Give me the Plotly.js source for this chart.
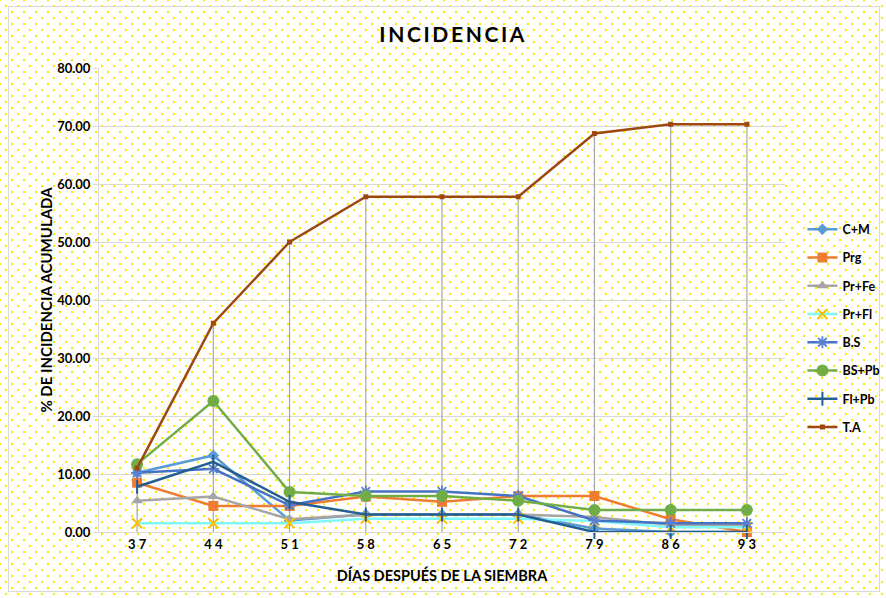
<!DOCTYPE html>
<html>
<head>
<meta charset="utf-8">
<script src="https://cdn.plot.ly/plotly-3.0.1.min.js"></script>
<style>
  html, body { margin: 0; padding: 0; background: #ffffff; }
  #wrap {
    position: relative; width: 886px; height: 598px; overflow: hidden;
    background-color: #ffffff;
    background-image:
      radial-gradient(circle, #ffe600 0.9px, rgba(255,255,255,0) 1.3px),
      radial-gradient(circle, #ffe600 0.9px, rgba(255,255,255,0) 1.3px);
    background-size: 12px 12px, 12px 12px;
    background-position: 0 0, 6px 6px;
  }
  #frame {
    position: absolute; left: 8px; top: 6px; width: 870px; height: 584px;
    border: 1px solid #d9d9d9; pointer-events: none;
  }
  #chart { position: absolute; left: 0; top: 0; width: 886px; height: 598px; }
</style>
</head>
<body>
<div id="wrap">
  <div id="frame"></div>
  <div id="chart"></div>
</div>
<script>
// ---- data ----
const days = [37, 44, 51, 58, 65, 72, 79, 86, 93];
const dayLabels = ["3 7", "4 4", "5 1", "5 8", "6 5", "7 2", "7 9", "8 6", "9 3"];
const yTicks = [0, 10, 20, 30, 40, 50, 60, 70, 80];
const yTickLabels = ["0.00", "10.00", "20.00", "30.00", "40.00", "50.00", "60.00", "70.00", "80.00"];

const cM   = [10.2, 13.2, 2.0, 3.0, 3.0, 3.0, 0.6, 0.0, 0.0];
const prg  = [8.5, 4.5, 4.5, 6.1, 5.2, 6.2, 6.2, 2.2, 0.0];
const prFe = [5.4, 6.1, 2.2, 3.0, 3.0, 3.0, 2.6, 1.2, 1.2];
const prFl = [1.5, 1.5, 1.5, 2.3, 2.3, 2.3, 1.9, 0.8, 0.8];
const bS   = [10.2, 10.9, 4.6, 7.0, 7.0, 6.2, 2.0, 1.5, 1.5];
const bsPb = [11.7, 22.6, 6.9, 6.2, 6.2, 5.4, 3.8, 3.8, 3.8];
const flPb = [7.8, 12.1, 5.2, 3.0, 3.0, 3.0, 0.0, 0.0, 0.0];
const tA   = [11.0, 36.0, 50.0, 57.8, 57.8, 57.8, 68.7, 70.3, 70.3];

// drop lines from highest series (T.A) down to the axis
const dropX = [], dropY = [];
days.forEach((d, i) => { dropX.push(d, d, null); dropY.push(0, tA[i], null); });

const FONT = "Lato, 'Open Sans', 'DejaVu Sans', sans-serif";

function series(name, y, lineColor, marker, group) {
  return {
    type: 'scatter', mode: 'lines+markers', name: name, x: days, y: y,
    line: { color: lineColor, width: 2.5 },
    marker: marker, legendgroup: group, hoverinfo: 'skip', cliponaxis: false
  };
}

const traces = [
  { type: 'scatter', mode: 'lines', x: dropX, y: dropY, showlegend: false,
    line: { color: '#a6a6a6', width: 1.2 }, hoverinfo: 'skip' },
  series('C+M', cM, '#5b9bd5', { symbol: 'diamond', size: 9, color: '#5b9bd5' }, 'a'),
  series('Prg', prg, '#ed7d31', { symbol: 'square', size: 10, color: '#ed7d31' }, 'b'),
  series('Pr+Fe', prFe, '#a5a5a5', { symbol: 'triangle-up', size: 10, color: '#a5a5a5' }, 'c'),
  series('Pr+Fl', prFl, '#7ff7ff', { symbol: 'x-thin-open', size: 10, color: '#ffc000', line: { color: '#ffc000', width: 2 } }, 'd'),
  series('B.S', bS, '#4472c4', { symbol: 'asterisk-open', size: 10, color: '#5b7fd0', line: { color: '#5b7fd0', width: 1.8 } }, 'e'),
  series('BS+Pb', bsPb, '#70ad47', { symbol: 'circle', size: 12, color: '#70ad47' }, 'f'),
  series('Fl+Pb', flPb, '#255e91', { symbol: 'line-ns-open', size: 10, color: '#255e91', line: { color: '#255e91', width: 2 } }, 'g'),
  series('T.A', tA, '#9e480e', { symbol: 'square', size: 5, color: '#9e480e' }, 'h')
];

const layout = {
  width: 886, height: 598,
  paper_bgcolor: 'rgba(0,0,0,0)', plot_bgcolor: 'rgba(0,0,0,0)',
  margin: { l: 99, r: 101, t: 68, b: 66, autoexpand: false },
  font: { family: FONT, color: '#000000' },
  showlegend: true,
  hovermode: false,
  title: {
    text: '<b>I N C I D E N C I A</b>'.replace(/ /g, '\u2009'),
    font: { family: FONT, size: 21, color: '#000000' },
    x: 0.51, xanchor: 'center', y: 0.942, yanchor: 'middle'
  },
  xaxis: {
    range: [33.5, 96.5], tickmode: 'array', tickvals: days, ticktext: dayLabels,
    showgrid: false, zeroline: false, automargin: false,
    showline: true, linecolor: '#d9d9d9', linewidth: 1,
    ticks: '', tickfont: { family: FONT, size: 13, color: '#000000', weight: 'bold' },
    title: { text: '<b>DÍAS DESPUÉS DE LA SIEMBRA</b>', font: { family: FONT, size: 14.5, color: '#000000' }, standoff: 20 },
    fixedrange: true
  },
  yaxis: {
    range: [0, 80], tickmode: 'array', tickvals: yTicks, ticktext: yTickLabels,
    showgrid: true, gridcolor: '#d9d9d9', gridwidth: 1, zeroline: false, automargin: false,
    showline: true, linecolor: '#d9d9d9', linewidth: 1,
    ticks: 'outside', ticklen: 5, tickcolor: '#d9d9d9',
    tickfont: { family: FONT, size: 13, color: '#000000', weight: 'bold' },
    title: { text: '<b>% DE INCIDENCIA ACUMULADA</b>', font: { family: FONT, size: 15, color: '#000000' }, standoff: 0 },
    fixedrange: true
  },
  legend: {
    x: 1.0254, xanchor: 'left', y: 0.684, yanchor: 'top',
    bgcolor: 'rgba(0,0,0,0)', borderwidth: 0,
    font: { family: FONT, size: 12.5, color: '#000000', weight: 'bold' },
    traceorder: 'grouped', tracegroupgap: 9, itemwidth: 30
  }
};

Plotly.newPlot('chart', traces, layout, { displayModeBar: false, staticPlot: true });
</script>
</body>
</html>
